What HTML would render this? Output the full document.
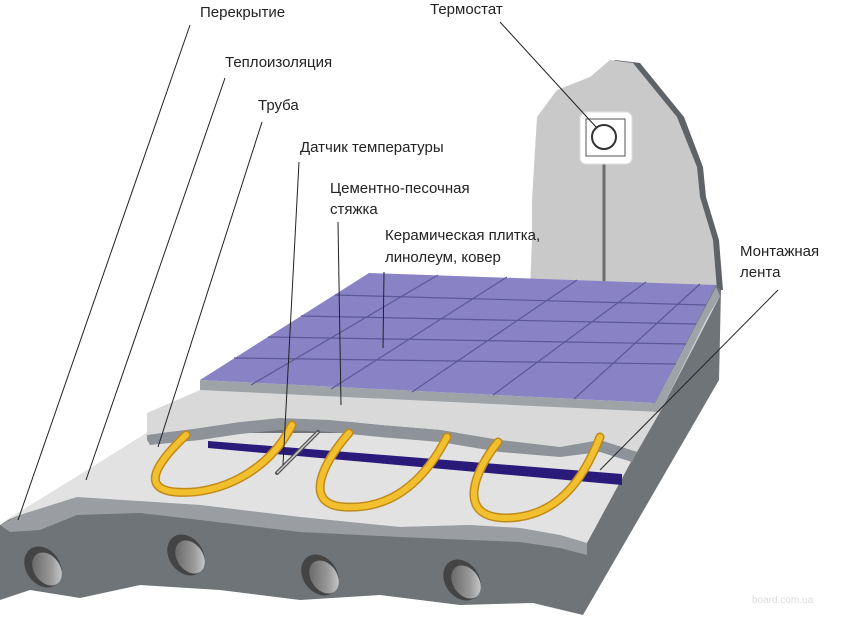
<!DOCTYPE html>
<html><head><meta charset="utf-8"><style>
html,body{margin:0;padding:0;background:#fff;}
svg{display:block;}
text{font-family:"Liberation Sans",sans-serif;font-size:15px;fill:#222;}
</style></head><body>
<svg width="850" height="621" viewBox="0 0 850 621" xmlns="http://www.w3.org/2000/svg">
<defs>
<linearGradient id="hg" x1="0" y1="0" x2="1" y2="1">
<stop offset="0" stop-color="#5a5a5a"/><stop offset="0.6" stop-color="#9a9a9a"/><stop offset="1" stop-color="#e0e0e0"/>
</linearGradient>
</defs>
<!-- wall -->
<path d="M537,290 L538,200 L542,117 L562,90 L595,77 L615,60 L640,63 L684,117 L703,167 L706,197 L719,240 L723,290 Z" fill="#5e6368"/>
<path d="M530,290 L532,240 L532,200 L537,117 L557,90 L590,77 L610,60 L633,63 L677,117 L697,167 L700,197 L713,240 L717,290 Z" fill="#c9c9c9"/>
<line x1="604" y1="160" x2="604" y2="282" stroke="#6d6d6d" stroke-width="3"/>
<rect x="580" y="112" width="52" height="52" rx="6" fill="#fff" stroke="#ddd"/>
<rect x="586" y="119" width="39" height="37" fill="none" stroke="#555" stroke-width="1"/>
<circle cx="604" cy="137" r="12" fill="#fff" stroke="#333" stroke-width="2"/>
<!-- slab dark -->
<path d="M0,525 L147,433 L650,405 L716,285 L721,290 L719,380 L583,615 L533,603 L460,605 L380,595 L300,600 L220,590 L140,585 L80,598 L30,590 L0,600 Z" fill="#6f7479"/>
<!-- right lighter strip -->
<path d="M655,403 L716,287 L720,296 L660,412 L640,440 Z" fill="#9ea3a7"/>
<!-- medium band -->
<path d="M0,525 L20,515 L77,497 L200,505 L300,517 L400,527 L470,525 L520,528 L560,535 L587,543 L587,555 L560,548 L520,542 L470,540 L400,537 L300,532 L200,520 L140,513 L77,515 L40,530 L10,532 Z" fill="#9a9ea2"/>
<!-- holes -->
<g>
<ellipse cx="43" cy="567" rx="17" ry="22" transform="rotate(-35 43 567)" fill="#444"/>
<ellipse cx="47" cy="569" rx="13" ry="18" transform="rotate(-35 47 569)" fill="url(#hg)"/>
<ellipse cx="186" cy="555" rx="17" ry="22" transform="rotate(-35 186 555)" fill="#444"/>
<ellipse cx="190" cy="557" rx="13" ry="18" transform="rotate(-35 190 557)" fill="url(#hg)"/>
<ellipse cx="320" cy="575" rx="17" ry="22" transform="rotate(-35 320 575)" fill="#444"/>
<ellipse cx="324" cy="577" rx="13" ry="18" transform="rotate(-35 324 577)" fill="url(#hg)"/>
<ellipse cx="462" cy="580" rx="17" ry="22" transform="rotate(-35 462 580)" fill="#444"/>
<ellipse cx="466" cy="582" rx="13" ry="18" transform="rotate(-35 466 582)" fill="url(#hg)"/>
</g>
<!-- insulation plane -->
<path d="M3,522 L147,433 L637,433 L632,460 L587,543 L560,535 L520,528 L470,525 L400,527 L300,517 L200,505 L77,497 L20,515 Z" fill="#e2e2e2"/>
<!-- screed -->
<path d="M147,413 L200,390 L655,405 L720,296 L660,412 L637,452 L600,440 L560,447 L500,440 L440,430 L380,425 L330,420 L280,418 L240,422 L200,428 L147,435 Z" fill="#d9d9d9"/>
<path d="M147,435 L200,428 L240,422 L280,418 L330,420 L380,425 L440,430 L500,440 L560,447 L600,440 L637,452 L632,462 L600,452 L560,457 L500,452 L440,442 L380,437 L330,432 L280,430 L240,434 L200,440 L150,445 L147,440 Z" fill="#8d9398"/>
<!-- tile edge -->
<path d="M200,380 L655,403 L716,287 L719,294 L660,412 L200,390 Z" fill="#9ea3a7"/>
<!-- tile -->
<path d="M200,380 L369,273 L716,285 L655,403 Z" fill="#8983c6"/>
<g stroke="#5c5796" stroke-width="1.2" fill="none">
<line x1="335" y1="295" x2="706" y2="305"/>
<line x1="301" y1="316" x2="696" y2="324"/>
<line x1="268" y1="337" x2="686" y2="344"/>
<line x1="234" y1="358" x2="676" y2="364"/>
<line x1="438" y1="275" x2="251" y2="385"/>
<line x1="507" y1="277" x2="331" y2="389"/>
<line x1="577" y1="280" x2="412" y2="392"/>
<line x1="646" y1="282" x2="493" y2="395"/>
<line x1="700" y1="284" x2="574" y2="399"/>
</g>
<!-- tape -->
<path d="M208,441 L622,474 L622,485 L208,448 Z" fill="#2a1a7a"/>
<!-- pipes -->
<g fill="none" stroke-linecap="round">
<g stroke="#c08a18" stroke-width="9">
<path d="M186,435 C165,455 135,488 175,492 C220,496 270,470 292,425"/>
<path d="M349,433 C325,460 300,505 345,507 C400,510 430,470 447,437"/>
<path d="M498,442 C475,470 455,517 505,518 C560,518 585,475 600,437"/>
</g>
<g stroke="#f2c02e" stroke-width="6">
<path d="M186,435 C165,455 135,488 175,492 C220,496 270,470 292,425"/>
<path d="M349,433 C325,460 300,505 345,507 C400,510 430,470 447,437"/>
<path d="M498,442 C475,470 455,517 505,518 C560,518 585,475 600,437"/>
</g>
</g>
<!-- sensor -->
<line x1="277" y1="473" x2="318" y2="432" stroke="#555" stroke-width="4" stroke-linecap="round"/>
<line x1="277" y1="473" x2="318" y2="432" stroke="#ccc" stroke-width="1.5"/>
<!-- leader lines -->
<g stroke="#222" stroke-width="1">
<line x1="190" y1="25" x2="18" y2="520"/>
<line x1="225" y1="78" x2="86" y2="480"/>
<line x1="262" y1="122" x2="158" y2="447"/>
<line x1="299" y1="162" x2="283" y2="465"/>
<line x1="338" y1="222" x2="341" y2="405"/>
<line x1="384" y1="272" x2="383" y2="348"/>
<line x1="500" y1="22" x2="596" y2="127"/>
<line x1="778" y1="290" x2="600" y2="470"/>
</g>
<!-- labels -->
<text x="200" y="17">Перекрытие</text>
<text x="225" y="67">Теплоизоляция</text>
<text x="258" y="110">Труба</text>
<text x="300" y="152">Датчик температуры</text>
<text x="330" y="193">Цементно-песочная</text>
<text x="330" y="214">стяжка</text>
<text x="385" y="240">Керамическая плитка,</text>
<text x="385" y="262">линолеум, ковер</text>
<text x="430" y="14">Термостат</text>
<text x="740" y="256">Монтажная</text>
<text x="740" y="277">лента</text>
<text x="752" y="603" style="font-size:10px;fill:#ddd">board.com.ua</text>
</svg>
</body></html>
